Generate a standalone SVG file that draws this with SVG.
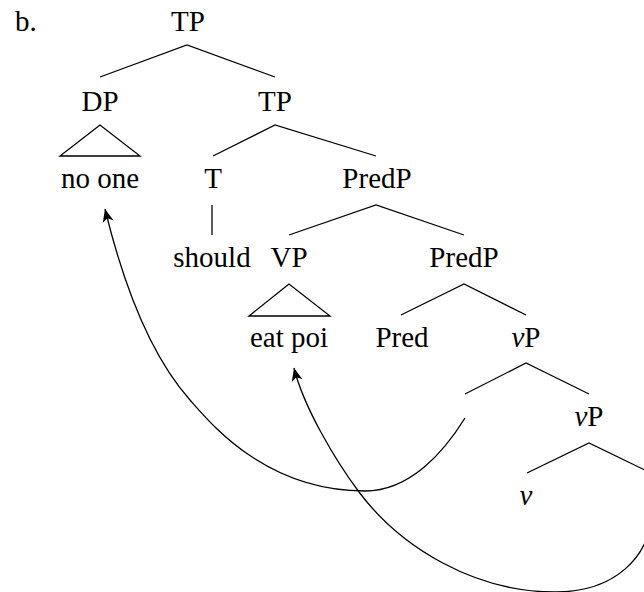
<svg xmlns="http://www.w3.org/2000/svg" width="644" height="592" viewBox="0 0 644 592">
  <style>
    text { font-family: "Liberation Serif", "Times New Roman", serif; font-size: 29px; fill: #000; text-anchor: middle; }
    .edge { stroke: #000; stroke-width: 1.3; fill: none; }
    .tri { stroke: #000; stroke-width: 1.3; fill: none; stroke-linejoin: miter; }
    .move { stroke: #000; stroke-width: 1.3; fill: none; marker-end: url(#arrow); }
  </style>
  <defs>
    <marker id="arrow" markerUnits="userSpaceOnUse" markerWidth="20" markerHeight="20" refX="0" refY="0" orient="auto" overflow="visible">
      <path d="M0,0 L-13,-5.5 L-9.5,0 L-13,5.5 Z" fill="#000"/>
    </marker>
  </defs>
  <rect width="644" height="592" fill="#fff"/>
  <text x="15" y="31" style="text-anchor:start">b.</text>

  <g id="connectors">
    <path class="edge" d="M100,77 L187,45 L275,77"/>
    <path class="edge" d="M213,156 L275,125 L376,156"/>
    <path class="edge" d="M212,205 L212,235"/>
    <path class="edge" d="M289,235 L376,205 L464,235"/>
    <path class="edge" d="M401,315 L464,284 L526,315"/>
    <path class="edge" d="M465,394 L526,363 L589,394"/>
    <path class="edge" d="M527,473 L589,443 L651,473"/>
    <path class="move" d="M465,418 C444,452 410,491 365,491 C265,491 210,422.5 190,400 C150,355 124,287 105,209"/>
    <path class="move" d="M652,512 C650,557 615,592 555,592 C475,592 401,548 359,492 C335,460 303.6,406.8 294,368"/>
  </g>

  <g id="tp-root"><text x="188" y="31">TP</text></g>
  <g id="dp">
    <text x="100" y="111">DP</text>
    <polygon class="tri" points="100,125 60,156 140,156"/>
  </g>
  <g id="no-one"><text x="100" y="188">no one</text></g>
  <g id="tp-bar"><text x="275" y="111">TP</text></g>
  <g id="t"><text x="213" y="188">T</text></g>
  <g id="should"><text x="212" y="267">should</text></g>
  <g id="predp-1"><text x="377" y="188">PredP</text></g>
  <g id="vp">
    <text x="289" y="267">VP</text>
    <polygon class="tri" points="289,284 249,316 330,316"/>
  </g>
  <g id="eat-poi"><text x="289" y="347">eat poi</text></g>
  <g id="predp-2"><text x="464" y="267">PredP</text></g>
  <g id="pred"><text x="402" y="347">Pred</text></g>
  <g id="littlevp-1"><text x="526" y="347"><tspan font-style="italic">v</tspan>P</text></g>
  <g id="littlevp-2"><text x="589" y="426"><tspan font-style="italic">v</tspan>P</text></g>
  <g id="littlev"><text x="526" y="505" font-style="italic">v</text></g>
</svg>
